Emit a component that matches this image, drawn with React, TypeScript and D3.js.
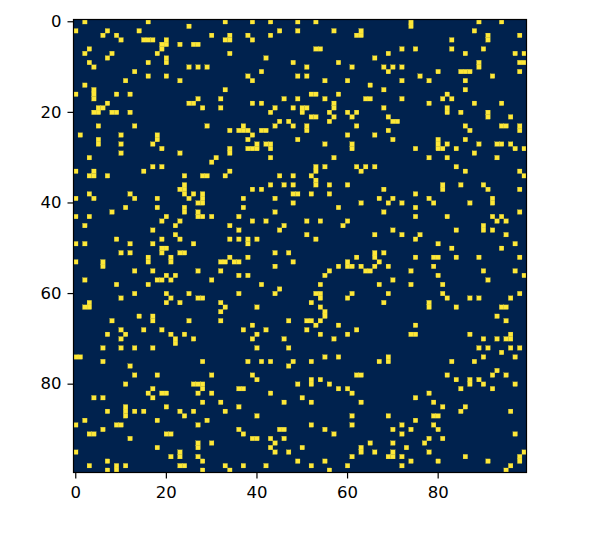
import React, { useEffect, useRef } from "react";
import * as d3 from "d3";

// columns that are "on" in each row of the 100x100 matrix
const onCells: number[][] = [
  [2,16,33,39,43,49,53,74,89,94],
  [25,74],
  [0,7,14,45,49,57,63,88],
  [6,9,30,34,38,43,62,63,91,98],
  [10,15,16,17,20,33,34,39,83,91],
  [19,20,23,26,27],
  [3,19,53,54,72,75,83,90],
  [2,8,18,34,69,86,97,99],
  [7,20,42,66],
  [3,16,20,48,58,89,98,99],
  [4,25,27,29,51,61,68,70,72,89],
  [13,41,69,80,85,86,87,98],
  [16,20,38,49,51,76,92],
  [11,23,39,55,60,72,78,86],
  [2,65],
  [4,33,68,86],
  [0,4,9,12,52,53,58,82],
  [4,27,32,46,49,55,64,65,72,81,83],
  [7,25,26,39,41,57,78,88,94],
  [5,6,28,32,44,48,50,51,57,68,82],
  [4,5,8,9,12,43,50,56,60,62,82,85,91],
  [52,53,57,61,69,91,96],
  [45,47,56,70,71],
  [5,13,29,37,44,48,51,62,86,94,95,98],
  [34,36,37,38,41,42,51,69,87,98],
  [1,10,18,39,60,66],
  [5,18,38,49,70,80,86],
  [5,10,17,40,42,43,55,61,80,82,89,93,94,96],
  [19,34,38,39,40,43,61,75,80,81,84,97,99],
  [10,23,34,88],
  [3,31,43,57,78,82,93],
  [30],
  [17,19,53,55,62,64,66,84],
  [0,4,15,34,53,63,86,98],
  [3,4,7,24,28,29,33,45,48,52,99],
  [53],
  [24,43,46,48,53,56,60,81,85,90],
  [23,24,39,41,68,81,91,98],
  [3,12,24,26,28,48,49,52,56,75],
  [0,4,13,18,25,28,37,44,67,70,78,92],
  [27,28,48,63,69,72,79,87,92],
  [11,18,24,37,58,75],
  [8,24,27,44,68,98],
  [0,3,20,27,28,30,36,75,82,92,94],
  [19,23,39,42,51,54,60,93,95],
  [2,22,34,46,59,90],
  [17,36,45,70,84,90,92],
  [22,51,66,72,76,95],
  [9,19,23,34,36,38,40,53,75],
  [0,2,12,17,26,38,80,97],
  [19,20,83,94],
  [10,12,19,23,24,44,47,66,68],
  [16,21,34,38,62,66,75,79,80,84,89,98],
  [0,6,16,21,32,33,35,36,48,60,67],
  [6,44,58,60,61,63,66,69,79],
  [13,17,27,32,56,64,65,74,90,97],
  [20,22,36,38,55,80,99],
  [2,18,19,21,30,70,91],
  [9,16,41,54,67,74,81],
  [45],
  [13,20,25,36,44,53,54,61,69,81,98],
  [10,21,27,28,54,60,82,87,89,96],
  [3,20,23,32,52,68,78],
  [2,3,33,40,54,78,84,94,95],
  [32,55],
  [14,17,55,93],
  [8,17,25,32,47,51,52,54,95],
  [39,53,58,75],
  [10,15,19,37,42,51,62],
  [7,11,21,24,40,54,60,74,75,87,96],
  [10,22,26,39,46,57,90,93,95,96],
  [22],
  [6,10,13,17,40,47,89,91,96,98],
  [94],
  [0,1,55,58,69,90,97],
  [6,28,38,41,43,48,52,67,69,83,88],
  [12,47],
  [93],
  [13,18,30,39,62,63,82,92,95],
  [40,52,54,84,87,89],
  [11,26,27,28,49,52,56,87,90,97],
  [17,28,36,37,58,60,85,92],
  [16,19,20,27,30,43,61,78],
  [4,6,17,50,75],
  [28,32,46,52,63,79],
  [11,20,36,81,86],
  [7,11,13,15,23,26,33,85,96],
  [11,24,40,61,69,79,80],
  [2,18,29,75],
  [0,9,10,27,52,61,72,79],
  [6,36,45,46,55,70,74,80],
  [3,4,20,21,37,57,72,97],
  [12,39,40,43,46,78,81],
  [27,30,44,65,70,77],
  [18,27,43,50,63,73],
  [0,23,44,47,63,66,70,78,99],
  [21,23,27,61,69,70,72,86,98],
  [7,28,49,55,74,80,91,98],
  [3,9,11,23,24,33,37,42,52,60,72,96],
  [7,9,28,34,56,95],
];

const xTicks = [0, 20, 40, 60, 80];
const yTicks = [0, 20, 40, 60, 80];

const left = 73.5;
const top = 19.5;
const side = 453;
const low = "#00224e";
const high = "#fee838";

export default function App() {
  const svgRef = useRef<SVGSVGElement>(null);

  useEffect(() => {
    const svg = d3.select(svgRef.current);
    svg.selectAll("*").remove();

    const idx = d3.range(100);
    const x = d3.scaleBand<number>().domain(idx).range([left, left + side]);
    const y = d3.scaleBand<number>().domain(idx).range([top, top + side]);

    svg.append("rect")
      .attr("x", left).attr("y", top)
      .attr("width", side).attr("height", side)
      .attr("fill", low);

    const cells = onCells.flatMap((cols, r) => cols.map(c => ({ r, c })));
    svg.append("g")
      .selectAll("rect")
      .data(cells)
      .join("rect")
      .attr("x", d => x(d.c)!)
      .attr("y", d => y(d.r)!)
      .attr("width", x.bandwidth())
      .attr("height", y.bandwidth())
      .attr("fill", high)
      .attr("stroke", high)
      .attr("stroke-width", 0.2);

    const bottom = d3.axisBottom(x).tickValues(xTicks).tickSize(6).tickPadding(8);
    const leftAxis = d3.axisLeft(y).tickValues(yTicks).tickSize(6).tickPadding(6);

    const gx = svg.append("g").attr("transform", `translate(0,${top + side})`).call(bottom);
    const gy = svg.append("g").attr("transform", `translate(${left},0)`).call(leftAxis);

    [gx, gy].forEach(g => {
      g.select(".domain").remove();
      g.selectAll("line").attr("stroke", "#000").attr("stroke-width", 1.2);
      g.selectAll("text")
        .attr("fill", "#000")
        .attr("font-family", "DejaVu Sans")
        .attr("font-size", 16.5);
    });

    // spines
    svg.append("rect")
      .attr("x", left).attr("y", top)
      .attr("width", side).attr("height", side)
      .attr("fill", "none")
      .attr("stroke", "#000")
      .attr("stroke-width", 1.2);
  }, []);

  return (
    <svg
      ref={svgRef}
      width={598}
      height={538}
      style={{ position: "absolute", left: 0, top: 0, background: "#fff" }}
    />
  );
}
